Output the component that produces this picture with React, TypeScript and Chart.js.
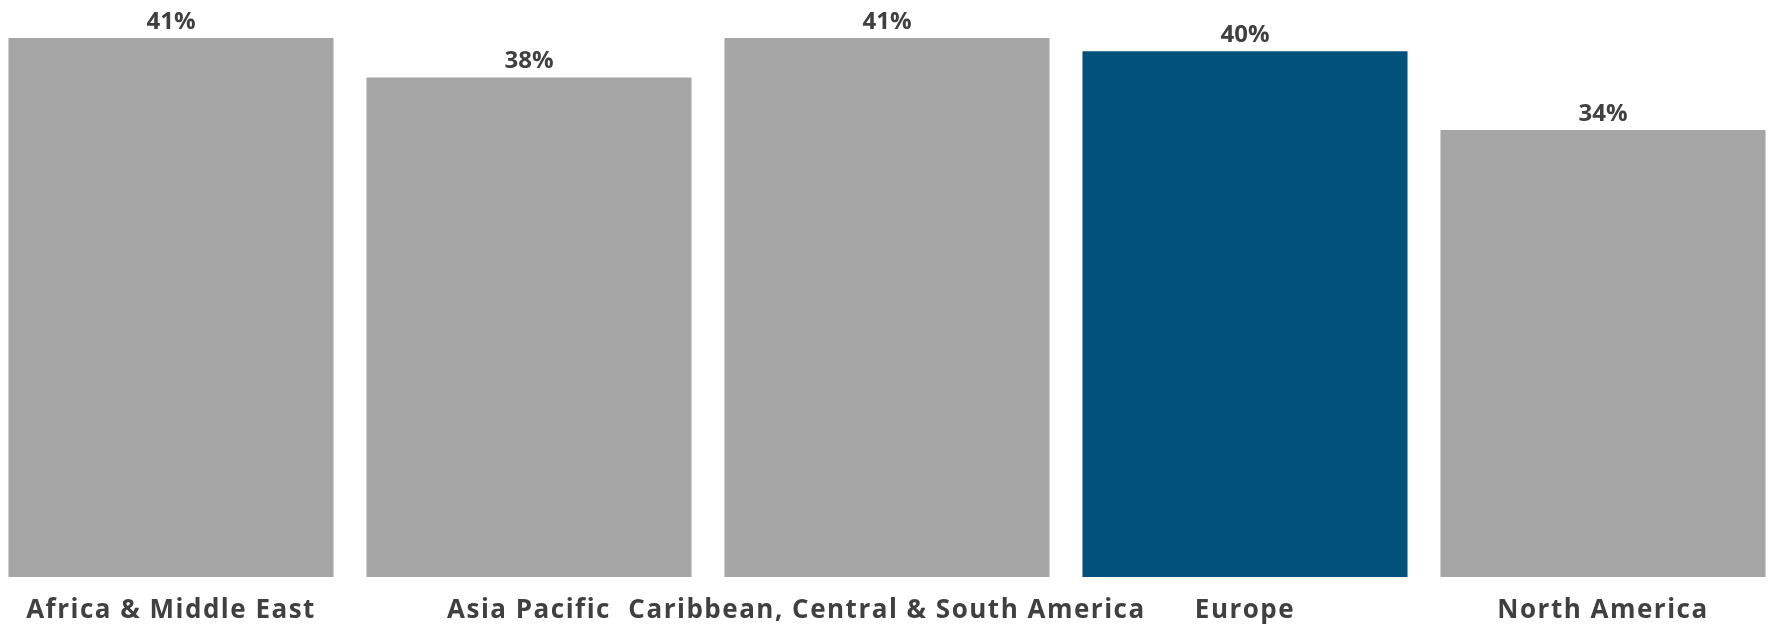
import React, { useEffect, useRef } from "react";
import { Chart, registerables } from "chart.js";

Chart.register(...registerables);

const categories = [
  "Africa & Middle East",
  "Asia Pacific",
  "Caribbean, Central & South America",
  "Europe",
  "North America",
];
const values = [41, 38, 41, 40, 34];
const barColors = ["#a6a6a6", "#a6a6a6", "#a6a6a6", "#00527a", "#a6a6a6"];
const valueLabels = ["41%", "38%", "41%", "40%", "34%"];

const FONT = "'Open Sans', Lato, 'DejaVu Sans', sans-serif";
const TEXT = "#404040";

const spacingPlugin = {
  id: "tickSpacing",
  beforeDraw(chart: any) {
    (chart.ctx as any).letterSpacing = "1.5px";
  },
};

const valueLabelPlugin = {
  id: "valueLabels",
  afterDatasetsDraw(chart: any) {
    const ctx = chart.ctx;
    const meta = chart.getDatasetMeta(0);
    ctx.save();
    (ctx as any).letterSpacing = "0px";
    ctx.font = `bold 24px ${FONT}`;
    ctx.fillStyle = TEXT;
    ctx.textAlign = "center";
    ctx.textBaseline = "alphabetic";
    meta.data.forEach((bar: any, i: number) => {
      ctx.fillText(valueLabels[i], bar.x, bar.y - 9);
    });
    ctx.restore();
  },
};

export default function App() {
  const ref = useRef<HTMLCanvasElement | null>(null);
  useEffect(() => {
    if (!ref.current) return;
    const chart = new Chart(ref.current, {
      type: "bar",
      data: {
        labels: categories,
        datasets: [
          {
            data: values,
            backgroundColor: barColors,
            borderWidth: 0,
            barPercentage: 0.908,
            categoryPercentage: 1,
          },
        ],
      },
      options: {
        animation: false,
        responsive: false,
        maintainAspectRatio: false,
        layout: { padding: { top: 38, left: 0, right: 0, bottom: 0 } },
        plugins: {
          legend: { display: false },
          tooltip: { enabled: false },
        },
        scales: {
          x: {
            grid: { display: false },
            border: { display: false },
            ticks: {
              autoSkip: false,
              maxRotation: 0,
              minRotation: 0,
              padding: 10,
              color: TEXT,
              font: { family: FONT, size: 26, weight: "bold" },
            },
            afterFit: (scale: any) => {
              scale.height = 48;
            },
          },
          y: {
            display: false,
            min: 0,
            max: 41,
          },
        },
      },
      plugins: [spacingPlugin, valueLabelPlugin],
    });
    return () => chart.destroy();
  }, []);
  return (
    <div
      style={{
        position: "fixed",
        left: 0,
        top: 0,
        width: 1771,
        height: 625,
        overflow: "hidden",
        background: "#fff",
      }}
    >
      <canvas
        ref={ref}
        width={1790}
        height={625}
        style={{ position: "absolute", left: -8, top: 0, width: 1790, height: 625 }}
      />
    </div>
  );
}
